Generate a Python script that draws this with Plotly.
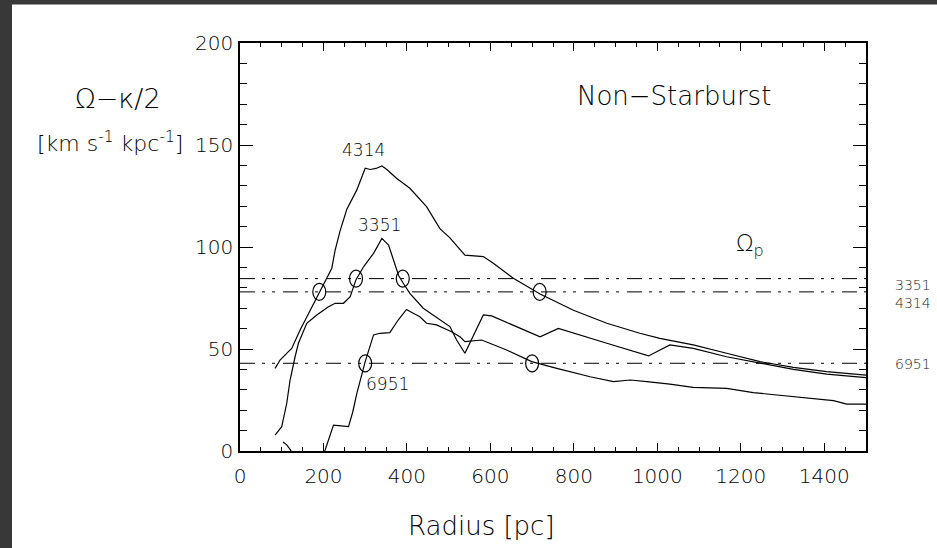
import plotly.graph_objects as go

# Rotation curve differences Omega - kappa/2 [km s^-1 kpc^-1] vs radius [pc]
radius_4314 = [84, 96, 116, 124, 144, 160, 176, 190, 208, 220, 228, 240, 256, 280, 300,
               312, 326, 340, 352, 375, 407, 447, 479, 503, 539, 560, 583, 607, 655, 719,
               799, 879, 958, 1006, 1086, 1166, 1246, 1326, 1406, 1500]
omega_4314 = [40.5, 44.6, 48.7, 50.3, 59.3, 65.8, 71.6, 78.0, 84.7, 89.6, 98.5, 108.0, 118.5,
              128.0, 138.6, 138.0, 138.5, 139.7, 138.0, 133.7, 128.8, 119.8, 109.0, 104.5,
              96.0, 95.5, 95.3, 92.0, 84.7, 77.0, 69.0, 62.6, 57.7, 55.2, 52.0, 47.9, 43.8,
              41.0, 38.9, 37.2]

radius_3351 = [84, 100, 112, 120, 132, 140, 160, 184, 212, 228, 248, 264, 278, 296, 320,
               340, 356, 368, 380, 392, 407, 439, 479, 503, 519, 539, 583, 603, 719, 763,
               879, 979, 1030, 1086, 1166, 1246, 1326, 1406, 1500]
omega_3351 = [7.8, 11.9, 23.4, 34.8, 46.2, 52.8, 62.6, 66.7, 70.7, 72.4, 72.4, 75.6, 84.0,
              90.3, 96.9, 104.2, 101.0, 93.6, 86.0, 82.0, 77.3, 70.0, 64.2, 61.0, 54.4, 47.9,
              66.7, 66.2, 56.0, 60.1, 52.8, 46.6, 52.0, 50.3, 46.2, 43.0, 40.0, 37.7, 36.0]

radius_6951 = [103, 112, 120, 140, 190, 204, 224, 260, 270, 280, 300, 320, 335, 359, 379,
               399, 415, 431, 447, 471, 507, 527, 539, 579, 639, 699, 759, 839, 895, 935,
               975, 1030, 1086, 1166, 1230, 1310, 1366, 1422, 1454, 1500]
omega_6951 = [4.4, 3.0, 0.8, -6.0, -6.0, 0.5, 12.7, 11.9, 19.0, 28.3, 43.8, 56.9, 57.7,
              58.0, 64.2, 69.4, 67.5, 65.8, 62.6, 61.8, 58.5, 56.0, 53.6, 54.4, 49.5, 43.8,
              40.5, 36.4, 34.0, 34.8, 34.0, 32.8, 31.2, 30.7, 28.6, 27.0, 25.8, 24.7, 23.0,
              23.0]

# Bar pattern speeds Omega_p
galaxy_ids = ["3351", "4314", "6951"]
pattern_speeds = [84.5, 78.0, 43.0]
pattern_label_omega = [81.4, 72.5, 42.6]

# Resonance crossings (circled)
crossing_radius = [278, 390, 190, 718, 300, 700]
crossing_omega = [84.5, 84.5, 78.0, 78.0, 43.0, 43.0]

# Curve labels
curve_labels = ["4314", "3351", "6951"]
curve_label_radius = [295, 334, 353]
curve_label_omega = [147.5, 110.8, 33.0]

W, H = 937, 548
ML, MR, MT, MB = 240, 71, 43, 97
PW, PH = W - ML - MR, H - MT - MB


def px_to_paper_x(px):
    return (px - ML) / PW


def px_to_paper_y(py):
    return (H - MB - py) / PH


FONT = "DejaVu Sans"
TXT = "#000000"
WEIGHT = 300

fig = go.Figure()

for r, v in [(radius_4314, omega_4314), (radius_3351, omega_3351), (radius_6951, omega_6951)]:
    fig.add_trace(go.Scatter(x=r, y=v, mode="lines", line=dict(color="black", width=1.2),
                             hoverinfo="skip", showlegend=False))

shapes = []
for gid, ps in zip(galaxy_ids, pattern_speeds):
    shapes.append(dict(type="line", xref="x domain", yref="y", x0=0, x1=1, y0=ps, y1=ps,
                       line=dict(color="black", width=1, dash="15px,7px,3px,7px,3px,8px")))

for r, v in zip(crossing_radius, crossing_omega):
    shapes.append(dict(type="circle", xref="x", yref="y",
                       xsizemode="pixel", ysizemode="pixel", xanchor=r, yanchor=v,
                       x0=-6.5, x1=6.5, y0=-8.5, y1=8.5,
                       line=dict(color="black", width=1.2)))

# dark frame strips along the left and top edges
frame = "#383838"
shapes.append(dict(type="rect", xref="paper", yref="paper", layer="above",
                   x0=px_to_paper_x(-5), x1=px_to_paper_x(12),
                   y0=px_to_paper_y(H + 5), y1=px_to_paper_y(-5),
                   fillcolor=frame, line=dict(width=0)))
shapes.append(dict(type="rect", xref="paper", yref="paper", layer="above",
                   x0=px_to_paper_x(-5), x1=px_to_paper_x(W + 5),
                   y0=px_to_paper_y(4.5), y1=px_to_paper_y(-5),
                   fillcolor=frame, line=dict(width=0)))


def label(text, x, y, xref, yref, size, color=TXT):
    return dict(text=text, x=x, y=y, xref=xref, yref=yref, showarrow=False,
                xanchor="center", yanchor="middle",
                font=dict(family=FONT, size=size, color=color, weight=WEIGHT))


annotations = []
for t, r, v in zip(curve_labels, curve_label_radius, curve_label_omega):
    annotations.append(label(t, r, v, "x", "y", 17))

for gid, v in zip(galaxy_ids, pattern_label_omega):
    annotations.append(label(gid, px_to_paper_x(913), v, "paper", "y", 14, "#222222"))

annotations += [
    label("Non\u2212Starburst", 1040, 174, "x", "y", 26),
    label("\u03a9<sub>p</sub>", 1222, 101, "x", "y", 23),
    label("\u03a9\u2212\u03ba/2", px_to_paper_x(117.5), px_to_paper_y(99),
          "paper", "paper", 27),
    label("[km s<sup>-1</sup> kpc<sup>-1</sup>]", px_to_paper_x(109.5), px_to_paper_y(142),
          "paper", "paper", 22),
    label("Radius [pc]", px_to_paper_x(481), px_to_paper_y(526), "paper", "paper", 26),
]

axis_common = dict(showgrid=False, zeroline=False, showline=True, linecolor="black",
                   linewidth=1.6, mirror="ticks", ticks="inside", tickcolor="black",
                   tickwidth=1.2,
                   tickfont=dict(family=FONT, size=20, color=TXT, weight=WEIGHT))

fig.update_xaxes(range=[0, 1500], dtick=200, tick0=0, ticklen=8, ticklabelstandoff=6,
                 minor=dict(dtick=50, ticks="inside", ticklen=4, tickcolor="black"),
                 **axis_common)
fig.update_yaxes(range=[0, 200], dtick=50, tick0=0, ticklen=13, ticklabelstandoff=1,
                 minor=dict(dtick=10, ticks="inside", ticklen=7, tickcolor="black"),
                 **axis_common)

fig.update_layout(width=W, height=H, margin=dict(l=ML, r=MR, t=MT, b=MB),
                  paper_bgcolor="white", plot_bgcolor="white",
                  shapes=shapes, annotations=annotations, showlegend=False)

fig.write_html("out.html", config={"displayModeBar": False})
